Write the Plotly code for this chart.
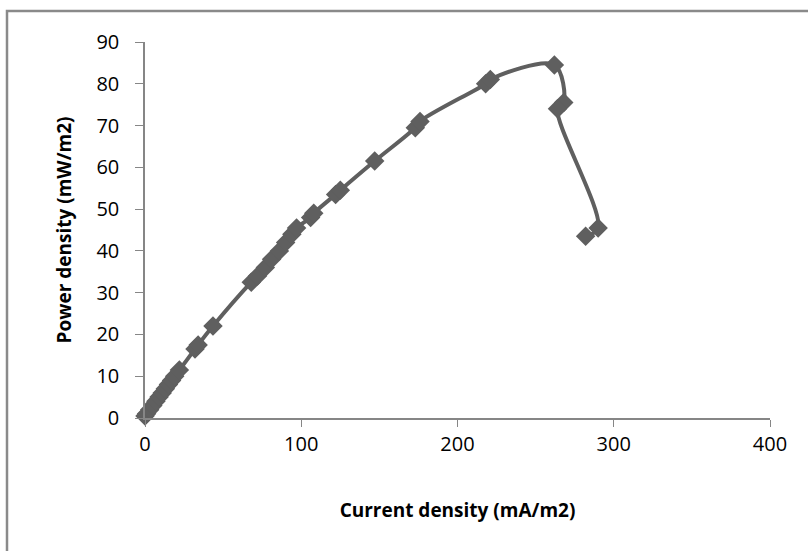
import plotly.graph_objects as go

current_density = [0, 1, 3, 5, 7, 9, 11, 13, 15, 17, 19, 22, 32, 34, 43.5, 68, 72, 77, 81, 86, 90, 94, 97,
                   106, 108, 122, 125, 147, 173, 176, 218, 221, 262, 268, 264, 290, 282]
power_density = [0.5, 1, 2, 3, 4, 5, 6, 7, 8, 9, 10, 11.5, 16.5, 17.5, 22, 32.5, 34, 36, 38, 40, 42, 44, 45.5,
                 48, 49, 53.5, 54.5, 61.5, 69.5, 71, 80, 81, 84.5, 75.5, 74, 45.5, 43.5]

x_ticks = [0, 100, 200, 300, 400]
y_ticks = [0, 10, 20, 30, 40, 50, 60, 70, 80, 90]

col = "#5f5f5f"
axis_col = "#868686"
font_fam = "'Open Sans', Lato, sans-serif"

fig = go.Figure()
fig.add_trace(go.Scatter(
    x=current_density, y=power_density, mode="lines+markers",
    line=dict(color=col, width=4, shape="spline", smoothing=1.0),
    marker=dict(symbol="diamond", size=15, color=col),
    showlegend=False, cliponaxis=False,
))

fig.update_layout(
    width=808, height=551,
    margin=dict(l=145, r=38, t=42, b=133),
    paper_bgcolor="white", plot_bgcolor="white",
    font=dict(family=font_fam, size=20, color="#000000"),
    xaxis=dict(range=[0, 400], tickvals=x_ticks, showgrid=False, zeroline=False,
               showline=True, linecolor=axis_col, linewidth=1.5,
               ticks="outside", ticklen=7, tickcolor=axis_col, tickwidth=1,
               ticklabelstandoff=0,
               tickfont=dict(size=20, family=font_fam),
               title=dict(text="<b>Current density (mA/m2)</b>", font=dict(size=19, family=font_fam), standoff=48)),
    yaxis=dict(range=[0, 90], tickvals=y_ticks, showgrid=False, zeroline=False,
               showline=True, linecolor=axis_col, linewidth=1.5,
               ticks="outside", ticklen=8, tickcolor=axis_col, tickwidth=1,
               ticklabelstandoff=12,
               tickfont=dict(size=20, family=font_fam),
               title=dict(text="<b>Power density (mW/m2)</b>", font=dict(size=19, family=font_fam), standoff=20)),
    shapes=[dict(type="rect", xref="paper", yref="paper",
                 x0=(7 - 145) / 625, x1=1.2, y0=-0.5, y1=(418 - 11) / 376,
                 line=dict(color="#8a8a8a", width=2.5), fillcolor="rgba(0,0,0,0)", layer="below")],
)

fig.write_html("out.html")
